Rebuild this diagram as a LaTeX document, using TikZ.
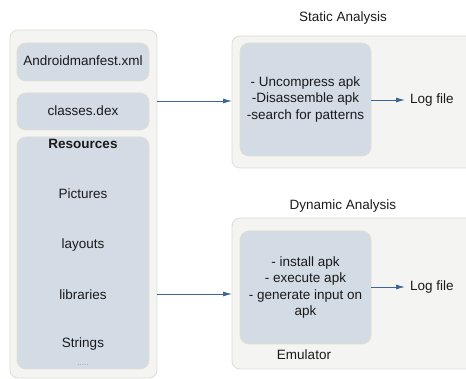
\documentclass[tikz,border=0pt]{standalone}
\usepackage{fontspec}
\setmainfont{Liberation Sans}
\usetikzlibrary{arrows.meta}
\definecolor{outerfill}{HTML}{F4F4F3}
\definecolor{outerdraw}{HTML}{DDDCD6}
\definecolor{innerfill}{HTML}{D3DBE5}
\definecolor{innerdraw}{HTML}{E2DECF}
\definecolor{arrowc}{HTML}{3D6595}
\definecolor{txt}{HTML}{1A1A1A}
\tikzset{
  outerbox/.style={draw=outerdraw, fill=outerfill, rounded corners=8pt, line width=0.8pt},
  innerbox/.style={draw=innerdraw, fill=innerfill, rounded corners=9pt, line width=0.8pt},
  lbl/.style={font=\fontsize{13.5}{16}\selectfont, text=txt, inner sep=0pt},
  conn/.style={draw=arrowc, line width=0.9pt, -{Latex[length=9pt,width=5pt]}},
}
\begin{document}
\begin{tikzpicture}[x=1pt,y=-1pt]
\useasboundingbox (0,0) rectangle (466,379);
% left container
\draw[outerbox] (10,30) rectangle (157,378);
\coordinate (leftA) at (157,101);
\coordinate (leftB) at (157,294);
\draw[innerbox] (17,43) rectangle (149,81);
\node[lbl] (manifest) at (83,61) {Androidmanfest.xml};
\draw[innerbox] (17,93) rectangle (149,130);
\node[lbl] (dex) at (83,111) {classes.dex};
\draw[innerbox] (17,137) rectangle (149,369);
\node[lbl, font=\fontsize{13.5}{16}\selectfont\bfseries] (res) at (83,144) {Resources};
\node[lbl] (pic) at (83,194) {Pictures};
\node[lbl] (lay) at (83,245) {layouts};
\node[lbl] (lib) at (83,295) {libraries};
\node[lbl] (str) at (83,344) {Strings};
\node[lbl, font=\fontsize{8}{9}\selectfont, text=gray!80] (dots) at (83,365) {.....};
% static analysis
\node[lbl] (stitle) at (343,18) {Static Analysis};
\draw[outerbox] (232,36) rectangle (475,168);
\node[innerbox, minimum width=131pt, minimum height=113pt, inner sep=0pt, align=center, font=\fontsize{13.5}{16.5}\selectfont, text=txt] (static) at (305.5,99.5) {- Uncompress apk\\-Disassemble apk\\-search for patterns};
\node[lbl, anchor=west] (slog) at (410,100) {Log file};
% dynamic analysis
\node[lbl] (dtitle) at (343,206) {Dynamic Analysis};
\draw[outerbox] (232,218) rectangle (475,369);
\node[innerbox, minimum width=131pt, minimum height=113pt, inner sep=0pt, align=center, font=\fontsize{13.5}{16.5}\selectfont, text=txt] (dyn) at (305.5,287.5) {- install apk\\- execute apk\\- generate input on\\apk};
\node[lbl] (emu) at (304,355) {Emulator};
\node[lbl, anchor=west] (dlog) at (410,287) {Log file};
% connectors
\draw[conn] (leftA) -- (232,101) coordinate (sin);
\draw[conn] (leftB) -- (232,294) coordinate (din);
\draw[conn, shorten >=5pt] (static.east |- slog) -- (slog.west);
\draw[conn, shorten >=5pt] (dyn.east |- dlog) -- (dlog.west);
\end{tikzpicture}
\end{document}
